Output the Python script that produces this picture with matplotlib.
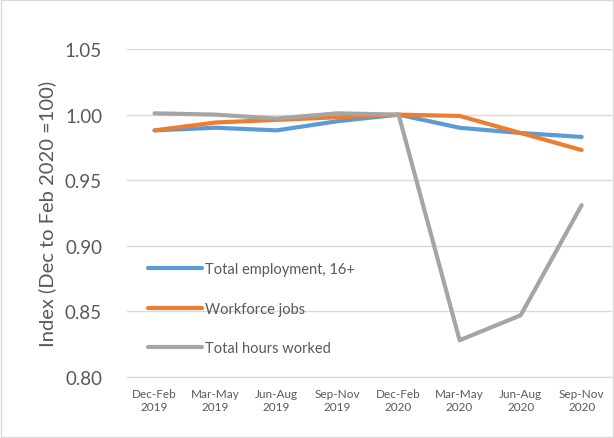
import matplotlib
matplotlib.use("Agg")
import matplotlib.pyplot as plt

categories = ["Dec-Feb\n2019", "Mar-May\n2019", "Jun-Aug\n2019", "Sep-Nov\n2019",
              "Dec-Feb\n2020", "Mar-May\n2020", "Jun-Aug\n2020", "Sep-Nov\n2020"]
total_employment = [0.988, 0.990, 0.988, 0.995, 1.000, 0.990, 0.986, 0.983]
workforce_jobs = [0.988, 0.994, 0.996, 0.998, 1.000, 0.999, 0.986, 0.973]
total_hours = [1.001, 1.000, 0.997, 1.001, 1.000, 0.828, 0.847, 0.931]
yticks = [0.80, 0.85, 0.90, 0.95, 1.00, 1.05]

plt.rcParams['font.family'] = ['Lato', 'DejaVu Sans']

fig = plt.figure(figsize=(6.14, 4.39), dpi=100)
ax = fig.add_axes([0.207, 0.139, 0.790, 0.747])

x = list(range(len(categories)))
ax.plot(x, total_employment, color="#5B9BD5", lw=3, label="Total employment, 16+", solid_capstyle="round")
ax.plot(x, workforce_jobs, color="#ED7D31", lw=3, label="Workforce jobs", solid_capstyle="round")
ax.plot(x, total_hours, color="#A5A5A5", lw=3, label="Total hours worked", solid_capstyle="round")

ax.set_xlim(-0.45, 7.5)
ax.set_ylim(0.80, 1.05)
ax.set_yticks(yticks)
ax.set_yticklabels([f"{v:.2f}" for v in yticks], fontsize=13.5, color="#595959")
ax.set_xticks(x)
ax.set_xticklabels(categories, fontsize=8.5, color="#595959")
ax.tick_params(length=0)
ax.tick_params(axis="y", pad=18)
ax.tick_params(axis="x", pad=8)
ax.grid(axis="y", color="#D9D9D9", lw=1)
ax.set_axisbelow(True)
for s in ["top", "right", "left"]:
    ax.spines[s].set_visible(False)
ax.spines["bottom"].set_color("#D9D9D9")
ax.set_ylabel("Index (Dec to Feb 2020 =100)", fontsize=14.5, color="#595959", labelpad=6)

leg = ax.legend(loc="upper left", bbox_to_anchor=(0.043, 0.35), frameon=False,
                fontsize=10.5, labelspacing=1.75, handlelength=3.7, handletextpad=0.2,
                borderpad=0, borderaxespad=0)
for t in leg.get_texts():
    t.set_color("#595959")

fig.patches.append(plt.Rectangle((0.002, 0.002), 0.996, 0.996, transform=fig.transFigure,
                                 fill=False, edgecolor="#D9D9D9", lw=1))
fig.savefig("out.png", dpi=100)
